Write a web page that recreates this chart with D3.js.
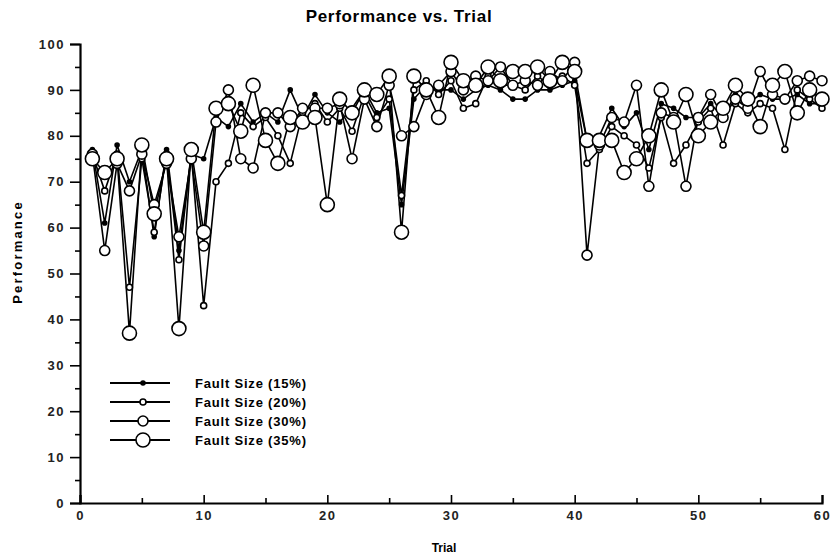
<!DOCTYPE html>
<html>
<head>
<meta charset="utf-8">
<script src="https://cdn.jsdelivr.net/npm/d3@7"></script>
<style>
  body { margin: 0; background: #fff; }
  svg { font-family: "Liberation Sans", Arial, sans-serif; }
</style>
</head>
<body>
<div id="chart"></div>
<script>
// values (trials 1..60)
const trials = d3.range(1, 61);

const fault15 = [77, 61, 78, 70, 77, 58, 77, 55, 76, 75,
                 84, 82, 87, 83, 85, 83, 90, 84, 89, 85,
                 83, 86, 90, 85, 86, 65, 88, 91, 90, 90,
                 88, 90, 91, 90, 88, 88, 90, 90, 91, 92,
                 79, 80, 86, 82, 85, 77, 87, 86, 84, 84,
                 87, 84, 89, 87, 89, 88, 88, 89, 87, 87];

const fault20 = [76, 68, 76, 47, 75, 59, 76, 53, 76, 43,
                 70, 74, 85, 82, 84, 80, 74, 85, 87, 83,
                 86, 81, 89, 84, 88, 67, 90, 92, 89, 92,
                 86, 87, 93, 91, 91, 90, 93, 91, 93, 91,
                 74, 77, 82, 80, 78, 73, 84, 74, 78, 83,
                 86, 78, 87, 85, 87, 86, 77, 90, 88, 86];

const fault30 = [76, 55, 74, 68, 76, 65, 74, 58, 75, 56,
                 83, 90, 75, 73, 85, 85, 82, 86, 86, 86,
                 87, 75, 88, 82, 91, 80, 82, 89, 91, 94,
                 90, 93, 92, 95, 91, 92, 91, 94, 92, 96,
                 54, 78, 84, 83, 91, 69, 85, 84, 69, 84,
                 89, 84, 88, 86, 94, 89, 88, 92, 93, 92];

const fault35 = [75, 72, 75, 37, 78, 63, 75, 38, 77, 59,
                 86, 87, 81, 91, 79, 74, 84, 83, 84, 65,
                 88, 85, 90, 89, 93, 59, 93, 90, 84, 96,
                 92, 91, 95, 92, 94, 94, 95, 92, 96, 94,
                 79, 79, 79, 72, 75, 80, 90, 83, 89, 80,
                 83, 86, 91, 88, 82, 91, 94, 85, 90, 88];

const seriesNames = ["Fault Size (15%)", "Fault Size (20%)", "Fault Size (30%)", "Fault Size (35%)"];
const xTicks = [0, 10, 20, 30, 40, 50, 60];
const yTicks = [0, 10, 20, 30, 40, 50, 60, 70, 80, 90, 100];

const width = 837, height = 560;
const plot = {left: 80, right: 822, top: 44, bottom: 503};

const markerR = [2, 3, 5, 7];

const series = [fault15, fault20, fault30, fault35].map((vals, i) => ({
    name: seriesNames[i],
    r: markerR[i],
    filled: i == 0,
    points: vals.map((v, j) => ({t: trials[j], v: v}))
}));

let svg = d3.select("#chart")
    .append("svg")
    .attr("width", width)
    .attr("height", height);

let xScale = d3.scaleLinear().domain([0, 60]).range([plot.left, plot.right]);
let yScale = d3.scaleLinear().domain([0, 100]).range([plot.bottom, plot.top]);

// title
svg.append("text")
    .attr("x", 399)
    .attr("y", 22)
    .attr("text-anchor", "middle")
    .style("font-size", "17px")
    .style("font-weight", "bold")
    .style("letter-spacing", "0.7px")
    .text("Performance vs. Trial");

// y axis: major ticks outward, minor ticks at 5s
svg.append("g")
    .attr("transform", `translate(${plot.left},0)`)
    .call(d3.axisLeft(yScale).tickValues(yTicks).tickSize(10).tickPadding(5));
svg.append("g")
    .attr("transform", `translate(${plot.left},0)`)
    .call(d3.axisLeft(yScale).tickValues(d3.range(5, 100, 10)).tickSize(5).tickFormat(""))
    .select(".domain").remove();

// x axis: ticks point inward
svg.append("g")
    .attr("transform", `translate(0,${plot.bottom})`)
    .call(d3.axisBottom(xScale).tickValues(xTicks).tickSize(-8).tickPadding(8));
svg.append("g")
    .attr("transform", `translate(0,${plot.bottom})`)
    .call(d3.axisBottom(xScale).tickValues(d3.range(5, 60, 10)).tickSize(-5).tickFormat(""))
    .select(".domain").remove();

svg.selectAll(".domain").attr("stroke-width", 2.2);
svg.selectAll(".tick line").attr("stroke-width", 1.6);
svg.selectAll(".tick text")
    .style("font-size", "13px")
    .style("font-weight", "bold")
    .style("letter-spacing", "1.5px")
    .attr("fill", "#222");

// axis titles
svg.append("text")
    .attr("x", 444)
    .attr("y", 552)
    .attr("text-anchor", "middle")
    .style("font-size", "12px")
    .style("font-weight", "bold")
    .text("Trial");

svg.append("text")
    .attr("transform", "translate(22,252) rotate(-90)")
    .attr("text-anchor", "middle")
    .style("font-size", "13px")
    .style("font-weight", "bold")
    .style("letter-spacing", "2.2px")
    .text("Performance");

// lines
let line = d3.line()
    .x(d => xScale(d.t))
    .y(d => yScale(d.v));

svg.append("g")
    .selectAll("path")
    .data(series)
    .enter()
    .append("path")
    .attr("d", d => line(d.points))
    .attr("fill", "none")
    .attr("stroke", "#000")
    .attr("stroke-width", 1.6)
    .attr("stroke-linejoin", "round");

// markers, biggest drawn last
series.forEach(s => {
    svg.append("g")
        .selectAll("circle")
        .data(s.points)
        .enter()
        .append("circle")
        .attr("cx", d => xScale(d.t))
        .attr("cy", d => yScale(d.v))
        .attr("r", s.r)
        .attr("fill", s.filled ? "#000" : "#fff")
        .attr("stroke", "#000")
        .attr("stroke-width", 1.6);
});

// legend
let legend = svg.append("g")
    .selectAll("g")
    .data(series)
    .enter()
    .append("g")
    .attr("transform", (d, i) => `translate(110,${383 + i * 19})`);

legend.append("line")
    .attr("x1", 0).attr("x2", 60)
    .attr("stroke", "#000")
    .attr("stroke-width", 1.8);

legend.append("circle")
    .attr("cx", 33)
    .attr("r", d => d.r)
    .attr("fill", d => d.filled ? "#000" : "#fff")
    .attr("stroke", "#000")
    .attr("stroke-width", 1.6);

legend.append("text")
    .attr("x", 85)
    .attr("y", 5)
    .style("font-size", "13px")
    .style("font-weight", "bold")
    .style("letter-spacing", "0.8px")
    .text(d => d.name);
</script>
</body>
</html>
